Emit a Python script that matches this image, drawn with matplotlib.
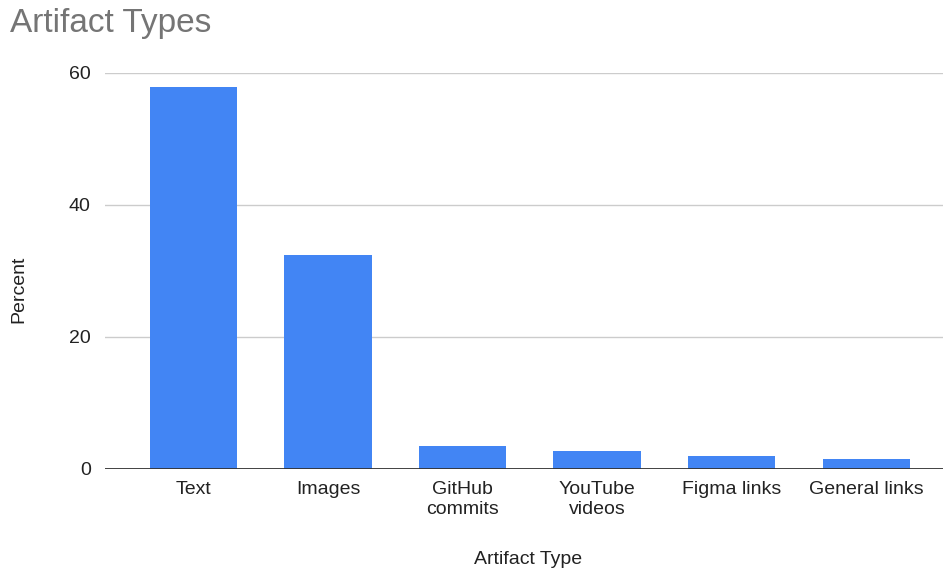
import matplotlib.pyplot as plt

categorias = ["Text", "Images", "GitHub\ncommits", "YouTube\nvideos", "Figma links", "General links"]
percentuais = [57.8, 32.4, 3.4, 2.6, 1.9, 1.4]
ticks_y = [0, 20, 40, 60]

plt.rcParams["font.family"] = ["Liberation Sans", "DejaVu Sans"]


def main():
    fig = plt.figure(figsize=(9.43, 5.70), dpi=100)
    ax = fig.add_axes([0.111, 0.178, 0.889, 0.6945])

    x = list(range(len(categorias)))
    ax.bar(x, percentuais, width=0.65, color="#4285F4", zorder=3)

    ax.set_xlim(-0.66, 5.57)
    ax.set_ylim(0, 60)
    ax.set_yticks(ticks_y)
    ax.set_xticks(x)
    ax.set_xticklabels(categorias, fontsize=14, linespacing=1.2)
    ax.tick_params(axis="both", length=0, labelsize=14, colors="#222222")
    ax.tick_params(axis="x", pad=9)
    ax.tick_params(axis="y", pad=10)

    for v in ticks_y[1:]:
        ax.axhline(v, color="#cccccc", linewidth=1, zorder=1)
    ax.axhline(0, color="#333333", linewidth=1.3, zorder=4)

    for lado in ["top", "right", "left", "bottom"]:
        ax.spines[lado].set_visible(False)

    ax.set_xlabel("Artifact Type", fontsize=14, color="#222222")
    ax.set_ylabel("Percent", fontsize=14, color="#222222")
    ax.xaxis.set_label_coords(0.505, -0.208)
    ax.yaxis.set_label_coords(-0.092, 0.453)

    fig.text(0.011, 0.958, "Artifact Types", fontsize=24, color="#757575",
             ha="left", va="center")

    fig.savefig("out.png", dpi=100)
    plt.close(fig)


if __name__ == "__main__":
    main()
